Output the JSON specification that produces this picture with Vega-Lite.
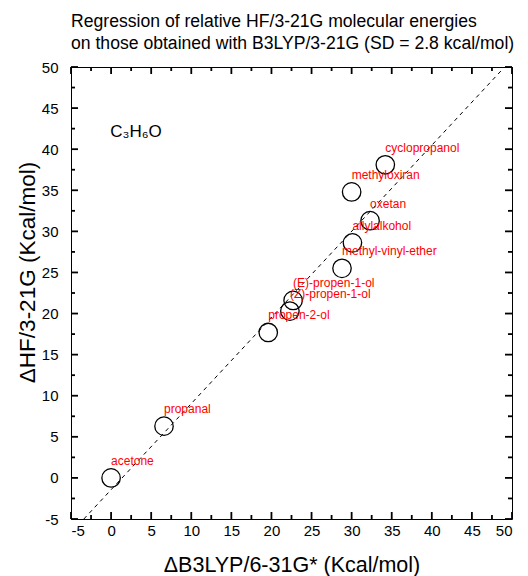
{
  "$schema": "https://vega.github.io/schema/vega-lite/v6.json",
  "width": 441,
  "height": 452,
  "autosize": {"type": "none"},
  "padding": {"left": 71, "top": 67, "right": 16, "bottom": 57},
  "config": {
    "font": "Liberation Sans",
    "view": {"stroke": "black", "strokeWidth": 1},
    "axis": {"grid": false, "domain": false, "labelColor": "black", "titleColor": "black", "titleFontWeight": "normal", "labelFont": "Liberation Sans", "titleFont": "Liberation Sans"}
  },
  "title": {
    "text": ["Regression of relative HF/3-21G molecular energies", "on those obtained with B3LYP/3-21G (SD = 2.8 kcal/mol)"],
    "anchor": "start",
    "frame": "group",
    "fontSize": 17.6,
    "fontWeight": "normal",
    "font": "Liberation Sans",
    "lineHeight": 22,
    "offset": 7,
    "color": "black"
  },
  "datasets": {
    "pts": [
      {"name": "acetone", "b3lyp": 0.0, "hf": 0.0},
      {"name": "propanal", "b3lyp": 6.6, "hf": 6.3},
      {"name": "propen-2-ol", "b3lyp": 19.6, "hf": 17.7},
      {"name": "(Z)-propen-1-ol", "b3lyp": 22.3, "hf": 20.3},
      {"name": "(E)-propen-1-ol", "b3lyp": 22.7, "hf": 21.6},
      {"name": "methyl-vinyl-ether", "b3lyp": 28.8, "hf": 25.5},
      {"name": "allylalkohol", "b3lyp": 30.1, "hf": 28.6},
      {"name": "oxetan", "b3lyp": 32.3, "hf": 31.3},
      {"name": "methyloxiran", "b3lyp": 30.0, "hf": 34.8},
      {"name": "cyclopropanol", "b3lyp": 34.2, "hf": 38.1}
    ],
    "fit": [
      {"b3lyp": -3.4, "hf": -5.0},
      {"b3lyp": 48.7, "hf": 49.6}
    ],
    "formula": [
      {"b3lyp": -0.1, "hf": 41.5, "label": "C₃H₆O"}
    ],
    "major": [
      {"v": -5}, {"v": 0}, {"v": 5}, {"v": 10}, {"v": 15}, {"v": 20}, {"v": 25}, {"v": 30}, {"v": 35}, {"v": 40}, {"v": 45}, {"v": 50}
    ],
    "minor": [
      {"v": -2.5}, {"v": 2.5}, {"v": 7.5}, {"v": 12.5}, {"v": 17.5}, {"v": 22.5}, {"v": 27.5}, {"v": 32.5}, {"v": 37.5}, {"v": 42.5}, {"v": 47.5}
    ]
  },
  "layer": [
    {
      "data": {"name": "fit"},
      "mark": {"type": "line", "color": "black", "strokeWidth": 1, "strokeDash": [4, 4]},
      "encoding": {
        "x": {"field": "b3lyp", "type": "quantitative", "scale": {"domain": [-5, 50], "nice": false, "zero": false},
          "axis": {"orient": "bottom", "values": [-5, 0, 5, 10, 15, 20, 25, 30, 35, 40, 45, 50], "ticks": false, "tickSize": 0, "labelPadding": 4, "labelFontSize": 15, "labelExpr": "'' + datum.value", "title": "ΔB3LYP/6-31G* (Kcal/mol)", "titleFontSize": 21.5, "titleY": 46, "titleBaseline": "middle"}},
        "y": {"field": "hf", "type": "quantitative", "scale": {"domain": [-5, 50], "nice": false, "zero": false},
          "axis": {"orient": "left", "values": [-5, 0, 5, 10, 15, 20, 25, 30, 35, 40, 45, 50], "ticks": false, "tickSize": 0, "labelPadding": 13, "labelFontSize": 15, "labelExpr": "'' + datum.value", "title": "ΔHF/3-21G (Kcal/mol)", "titleFontSize": 22.5, "titleX": -44, "titleY": 205, "titleBaseline": "middle", "titleAlign": "center", "titleAngle": -90}}
      }
    },
    {
      "data": {"name": "pts"},
      "mark": {"type": "point", "shape": "circle", "filled": false, "color": "black", "strokeWidth": 1.3, "size": 340, "opacity": 1},
      "encoding": {
        "x": {"field": "b3lyp", "type": "quantitative"},
        "y": {"field": "hf", "type": "quantitative"}
      }
    },
    {
      "data": {"name": "pts"},
      "mark": {"type": "text", "color": "#ff0000", "fontSize": 12, "align": "left", "baseline": "alphabetic", "dy": -13},
      "encoding": {
        "x": {"field": "b3lyp", "type": "quantitative"},
        "y": {"field": "hf", "type": "quantitative"},
        "text": {"field": "name"}
      }
    },
    {
      "data": {"name": "formula"},
      "mark": {"type": "text", "color": "black", "fontSize": 17, "align": "left", "baseline": "alphabetic"},
      "encoding": {
        "x": {"field": "b3lyp", "type": "quantitative"},
        "y": {"field": "hf", "type": "quantitative"},
        "text": {"field": "label"}
      }
    },
    {
      "data": {"name": "major"},
      "mark": {"type": "rule", "color": "black", "strokeWidth": 1.8, "y2Offset": -7},
      "encoding": {
        "x": {"field": "v", "type": "quantitative"},
        "y": {"datum": -5, "type": "quantitative"},
        "y2": {"datum": -5}
      }
    },
    {
      "data": {"name": "major"},
      "mark": {"type": "rule", "color": "black", "strokeWidth": 1.8, "y2Offset": 7},
      "encoding": {
        "x": {"field": "v", "type": "quantitative"},
        "y": {"datum": 50, "type": "quantitative"},
        "y2": {"datum": 50}
      }
    },
    {
      "data": {"name": "major"},
      "mark": {"type": "rule", "color": "black", "strokeWidth": 1.8, "x2Offset": 7},
      "encoding": {
        "y": {"field": "v", "type": "quantitative"},
        "x": {"datum": -5, "type": "quantitative"},
        "x2": {"datum": -5}
      }
    },
    {
      "data": {"name": "major"},
      "mark": {"type": "rule", "color": "black", "strokeWidth": 1.8, "x2Offset": -7},
      "encoding": {
        "y": {"field": "v", "type": "quantitative"},
        "x": {"datum": 50, "type": "quantitative"},
        "x2": {"datum": 50}
      }
    },
    {
      "data": {"name": "minor"},
      "mark": {"type": "rule", "color": "black", "strokeWidth": 1.8, "y2Offset": -4},
      "encoding": {
        "x": {"field": "v", "type": "quantitative"},
        "y": {"datum": -5, "type": "quantitative"},
        "y2": {"datum": -5}
      }
    },
    {
      "data": {"name": "minor"},
      "mark": {"type": "rule", "color": "black", "strokeWidth": 1.8, "y2Offset": 4},
      "encoding": {
        "x": {"field": "v", "type": "quantitative"},
        "y": {"datum": 50, "type": "quantitative"},
        "y2": {"datum": 50}
      }
    },
    {
      "data": {"name": "minor"},
      "mark": {"type": "rule", "color": "black", "strokeWidth": 1.8, "x2Offset": 4},
      "encoding": {
        "y": {"field": "v", "type": "quantitative"},
        "x": {"datum": -5, "type": "quantitative"},
        "x2": {"datum": -5}
      }
    },
    {
      "data": {"name": "minor"},
      "mark": {"type": "rule", "color": "black", "strokeWidth": 1.8, "x2Offset": -4},
      "encoding": {
        "y": {"field": "v", "type": "quantitative"},
        "x": {"datum": 50, "type": "quantitative"},
        "x2": {"datum": 50}
      }
    }
  ]
}
